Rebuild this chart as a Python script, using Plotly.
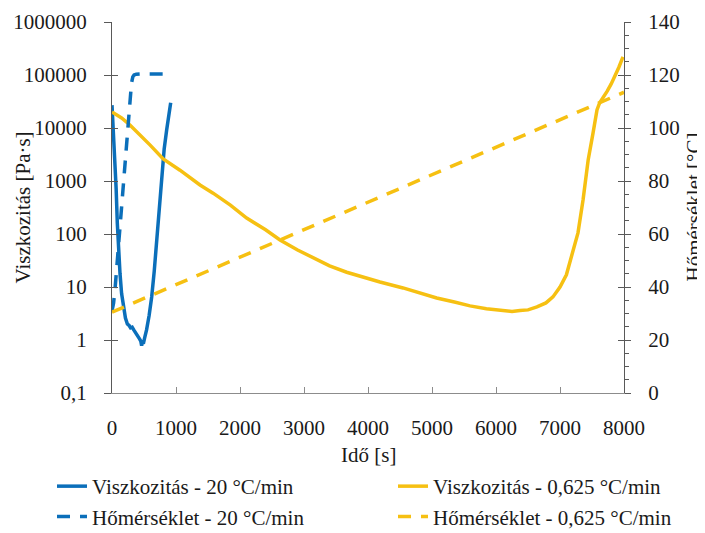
import plotly.graph_objects as go

# ---- data ----
t_visc20 = [0, 25, 47, 65, 83, 105, 125, 150, 177, 210, 240, 265, 290, 315, 340, 365, 390,
            410, 430, 450, 463, 475, 490, 510, 540, 580, 620, 660, 698, 740, 776, 815, 854, 885, 917]
visc20 = [27000, 8000, 2800, 700, 160, 45, 18, 7.5, 4.2, 2.6, 2.0, 1.9, 1.7, 1.75, 1.55, 1.4, 1.3,
          1.15, 1.05, 0.95, 0.78, 0.9, 0.85, 1.1, 1.55, 2.9, 6.5, 20, 77, 300, 1400, 4000, 9200, 17000, 30000]

t_temp20 = [0, 25, 50, 90, 125, 170, 210, 250, 280, 305, 325, 345, 380, 440, 940]
temp20 = [31, 34, 40, 52, 63, 77, 90, 103, 112, 117, 119.3, 120, 120.3, 120.4, 120.4]

t_visc0625 = [0, 150, 280, 406, 600, 800, 1062, 1375, 1580, 1850, 2104, 2400, 2625, 2900, 3146,
              3400, 3667, 3900, 4187, 4547, 4800, 5073, 5350, 5594, 5850, 6000, 6109, 6250, 6375,
              6500, 6640, 6780, 6890, 7000, 7100, 7200, 7281, 7360, 7440, 7516, 7578, 7620, 7680,
              7740, 7800, 7860, 7920, 7984]
visc0625 = [20000, 15500, 11400, 8100, 4700, 2600, 1600, 840, 590, 350, 200, 120, 77, 50, 35,
            25, 19, 15.5, 12.4, 9.6, 7.8, 6.2, 5.2, 4.4, 3.9, 3.7, 3.5, 3.45, 3.6,
            3.7, 4.2, 5.0, 6.5, 10, 17, 45, 105, 440, 2500, 8000, 22000, 30000, 38000,
            50000, 68000, 95000, 140000, 220000]

t_temp0625 = [0, 8000]
temp0625 = [30.5, 113.5]

visc_ticks = [0.1, 1, 10, 100, 1000, 10000, 100000, 1000000]
visc_ticktext = ["0,1", "1", "10", "100", "1000", "10000", "100000", "1000000"]

names = ["Viszkozitás - 20 °C/min", "Viszkozitás - 0,625 °C/min",
         "Hőmérséklet - 20 °C/min", "Hőmérséklet - 0,625 °C/min"]

BLUE = "#0B6FBA"
YELLOW = "#F6C012"
FONT = "Liberation Serif"
FS = 21
AX_COL = "#595959"
OFF = 8                      # page body margin of the browser
W, H = 705 - OFF, 533 - OFF  # visible figure size

# target plot area in window pixels: x 112..624, y 22..393
L, R, T, B = 112 - OFF, (705 - 624), 22 - OFF, (533 - 393)
PW, PH = W - L - R, H - T - B

def px_x(xw):   # window pixel -> paper x
    return (xw - OFF - L) / PW

def px_y(yw):   # window pixel -> paper y
    return (H - B - (yw - OFF)) / PH

fig = go.Figure()
fig.add_trace(go.Scatter(x=t_visc20, y=visc20, name=names[0], mode="lines", legend="legend",
                         line=dict(color=BLUE, width=3.5), yaxis="y"))
fig.add_trace(go.Scatter(x=t_temp20, y=temp20, name=names[2], mode="lines", legend="legend",
                         line=dict(color=BLUE, width=3.5, dash="13px,10px"), yaxis="y2"))
fig.add_trace(go.Scatter(x=t_visc0625, y=visc0625, name=names[1], mode="lines", legend="legend2",
                         line=dict(color=YELLOW, width=3.5), yaxis="y"))
fig.add_trace(go.Scatter(x=t_temp0625, y=temp0625, name=names[3], mode="lines", legend="legend2",
                         line=dict(color=YELLOW, width=3.5, dash="13px,10px"), yaxis="y2"))

leg_common = dict(orientation="v", xref="container", yref="container", xanchor="left",
                  yanchor="top", font=dict(size=FS), traceorder="normal",
                  itemwidth=30, bgcolor="rgba(0,0,0,0)")

fig.update_layout(
    width=W, height=H,
    margin=dict(l=L, r=R, t=T, b=B, autoexpand=False),
    paper_bgcolor="white", plot_bgcolor="white",
    font=dict(family=FONT, size=FS, color="#1a1a1a"),
    showlegend=True,
    legend=dict(x=(52 - OFF) / W, y=1 - (466 - OFF) / H, **leg_common),
    legend2=dict(x=(393 - OFF) / W, y=1 - (466 - OFF) / H, **leg_common),
    xaxis=dict(range=[0, 8000], dtick=1000, tick0=0, showgrid=False, zeroline=False,
               showline=True, linecolor="#8c8c8c", linewidth=1, automargin=False,
               ticks="inside", ticklen=6, tickcolor="#8c8c8c",
               ticklabelstandoff=16, tickfont=dict(size=FS)),
    yaxis=dict(type="log", range=[-1, 6], tickvals=visc_ticks, ticktext=visc_ticktext,
               showgrid=False, zeroline=False, showline=True, linecolor=AX_COL, linewidth=1,
               ticks="outside", ticklen=7, tickcolor=AX_COL, ticklabelstandoff=13,
               tickfont=dict(size=FS), automargin=False),
    yaxis3=dict(type="log", range=[-1, 6], tickvals=visc_ticks, overlaying="y", side="left",
                showticklabels=False, showgrid=False, zeroline=False, showline=False,
                ticks="inside", ticklen=6, tickcolor=AX_COL, automargin=False),
    yaxis2=dict(range=[0, 140], dtick=20, tick0=0, overlaying="y", side="right",
                showgrid=False, zeroline=False, showline=True, linecolor=AX_COL, linewidth=1,
                ticks="outside", ticklen=6, tickcolor=AX_COL, ticklabelstandoff=13,
                tickfont=dict(size=FS), automargin=False,
                minor=dict(dtick=5, ticks="outside", ticklen=4, tickcolor=AX_COL)),
    yaxis4=dict(range=[0, 140], dtick=20, tick0=0, overlaying="y", side="right",
                showticklabels=False, showgrid=False, zeroline=False, showline=False,
                ticks="inside", ticklen=6, tickcolor=AX_COL, automargin=False),
    annotations=[
        dict(text="Viszkozitás [Pa·s]", xref="paper", yref="paper", x=px_x(22), y=0.5,
             textangle=-90, showarrow=False, xanchor="center", yanchor="middle",
             font=dict(size=FS)),
        dict(text="Hőmérséklet [°C]", xref="paper", yref="paper", x=px_x(693), y=0.5,
             textangle=-90, showarrow=False, xanchor="center", yanchor="middle",
             font=dict(size=FS)),
        dict(text="Idő [s]", xref="paper", yref="paper", x=0.5, y=px_y(455),
             showarrow=False, xanchor="center", yanchor="middle", font=dict(size=FS)),
    ],
)

# invisible traces so that the tick-only overlay axes are drawn
fig.add_trace(go.Scatter(x=[None], y=[None], yaxis="y3", showlegend=False, hoverinfo="skip"))
fig.add_trace(go.Scatter(x=[None], y=[None], yaxis="y4", showlegend=False, hoverinfo="skip"))

fig.write_html("out.html")
